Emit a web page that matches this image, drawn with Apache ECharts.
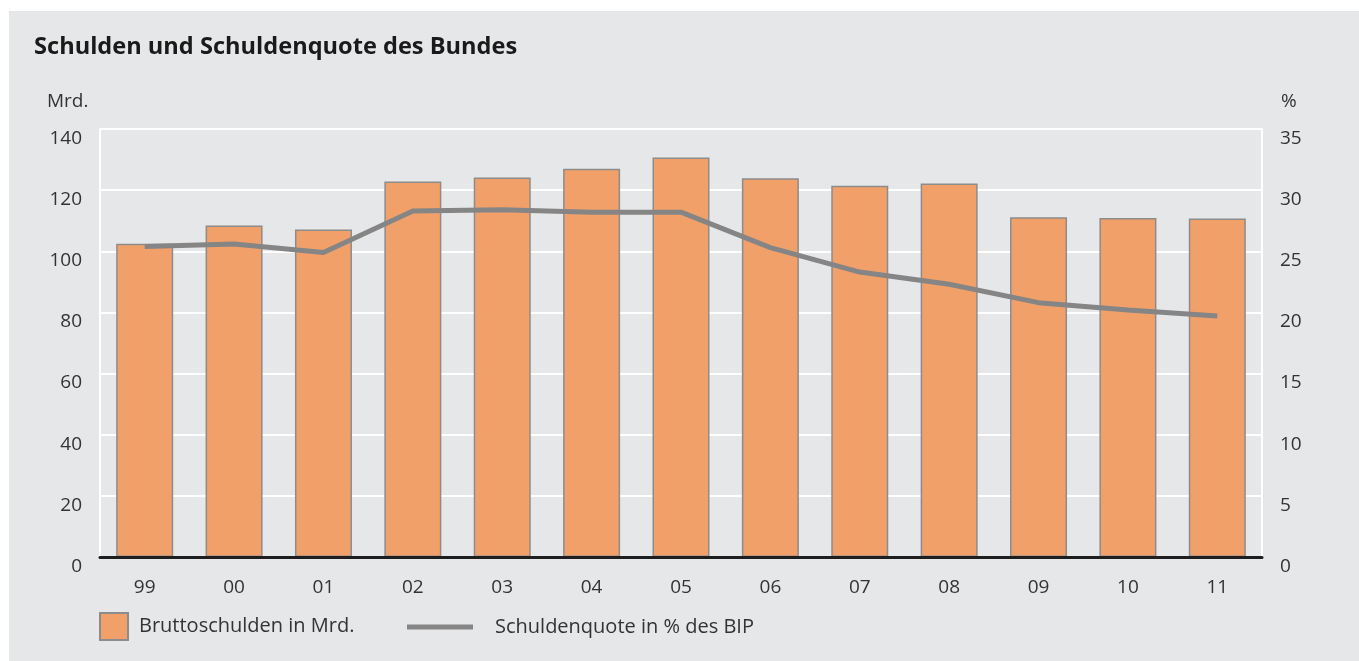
<!DOCTYPE html>
<html>
<head>
<meta charset="utf-8">
<script src="https://cdn.jsdelivr.net/npm/echarts@6/dist/echarts.min.js"></script>
<style>
  html, body { margin: 0; padding: 0; background: #fff; }
  #chart { width: 1359px; height: 661px; }
</style>
</head>
<body>
<div id="chart"></div>
<script>
var years = ['99', '00', '01', '02', '03', '04', '05', '06', '07', '08', '09', '10', '11'];
// Bruttoschulden in Mrd.
var debt = [102.5, 108.4, 107.1, 122.8, 124.1, 127.0, 130.7, 123.9, 121.4, 122.2, 111.1, 110.9, 110.7];
// Schuldenquote in % des BIP
var ratio = [25.4, 25.6, 24.9, 28.3, 28.4, 28.2, 28.2, 25.3, 23.3, 22.3, 20.8, 20.2, 19.7];

var font = '"Open Sans", "DejaVu Sans", sans-serif';
var textColor = '#333';

var chart = echarts.init(document.getElementById('chart'));
chart.setOption({
  animation: false,
  backgroundColor: '#fff',
  graphic: [
    {
      type: 'rect', z: -10, silent: true,
      shape: { x: 9, y: 11, width: 1350, height: 650 },
      style: { fill: '#e6e7e9' }
    },
    {
      type: 'text', left: 34, top: 35,
      style: { text: 'Schulden und Schuldenquote des Bundes', font: 'bold 23.6px ' + font, fill: '#1a1a1a' }
    },
    {
      type: 'text', left: 47, top: 92,
      style: { text: 'Mrd.', font: '19px ' + font, fill: textColor }
    },
    {
      type: 'text', left: 1281, top: 92,
      style: { text: '%', font: '19px ' + font, fill: textColor }
    }
  ],
  grid: { left: 100, right: 97, top: 129, bottom: 104 },
  legend: [
    {
      data: ['Bruttoschulden in Mrd.'],
      left: 99, top: 612, padding: 0,
      itemWidth: 28, itemHeight: 27,
      icon: 'rect',
      textStyle: { fontFamily: font, fontSize: 20, color: textColor, padding: [0, 0, 0, 6] }
    },
    {
      data: ['Schuldenquote in % des BIP'],
      left: 407, top: 617, padding: 0,
      itemWidth: 66, itemHeight: 5,
      icon: 'rect',
      textStyle: { fontFamily: font, fontSize: 20, color: textColor, padding: [0, 0, 0, 17] }
    }
  ],
  xAxis: {
    type: 'category',
    data: years,
    axisLine: { lineStyle: { color: '#1e1e1e', width: 3 } },
    axisTick: { show: false },
    axisLabel: { fontFamily: font, fontSize: 19, color: textColor, margin: 21 },
    z: 10
  },
  yAxis: [
    {
      type: 'value', min: 0, max: 140, interval: 20,
      axisLine: { show: true, lineStyle: { color: '#fff', width: 2 } },
      axisTick: { show: false },
      splitLine: { lineStyle: { color: '#fff', width: 2 } },
      axisLabel: { fontFamily: font, fontSize: 19, color: textColor, margin: 18, verticalAlign: 'top' }
    },
    {
      type: 'value', min: 0, max: 35, interval: 5,
      axisLine: { show: true, lineStyle: { color: '#fff', width: 2 } },
      axisTick: { show: false },
      splitLine: { show: false },
      axisLabel: { fontFamily: font, fontSize: 19, color: textColor, margin: 18, verticalAlign: 'top' }
    }
  ],
  series: [
    {
      name: 'Bruttoschulden in Mrd.',
      type: 'bar',
      data: debt,
      barWidth: 57,
      itemStyle: { color: '#f2a06a', borderColor: '#8c8c8c', borderWidth: 1.5 }
    },
    {
      name: 'Schuldenquote in % des BIP',
      type: 'line',
      yAxisIndex: 1,
      data: ratio,
      showSymbol: false,
      symbol: 'none',
      lineStyle: { color: '#858585', width: 5 },
      itemStyle: { color: '#858585' }
    }
  ]
});
</script>
</body>
</html>
